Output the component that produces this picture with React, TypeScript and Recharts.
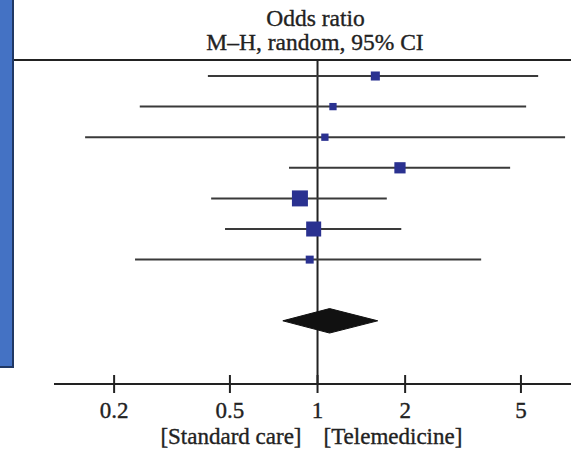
import { ComposedChart, Scatter, XAxis, YAxis, ReferenceLine } from "recharts";

// study rows, top to bottom
const STUDY_ROWS = [1, 2, 3, 4, 5, 6, 7];
const ODDS_RATIOS = [1.58, 1.13, 1.06, 1.92, 0.87, 0.97, 0.94];
const CI_LOWER = [0.42, 0.245, 0.159, 0.798, 0.431, 0.481, 0.236];
const CI_UPPER = [5.73, 5.21, 7.09, 4.59, 1.73, 1.94, 3.65];
const WEIGHTS = [9.5, 6.2, 6.2, 14.7, 29.8, 26.2, 7.4];

// pooled estimate (diamond)
const POOLED_ROW = 9;
const POOLED_OR = 1.1;
const POOLED_LOWER = 0.76;
const POOLED_UPPER = 1.61;

const X_TICKS = [0.2, 0.5, 1, 2, 5];
const X_DOMAIN = [0.1243, 7.43];
const Y_DOMAIN = [0.477, 11.065];

const SERIF = "'Liberation Serif', 'DejaVu Serif', serif";
const INK = "#222";
const LINE = "#3a3a3a";
const SQUARE = "#2a3190";

const studies = STUDY_ROWS.map((row, i) => ({
  row,
  or: ODDS_RATIOS[i],
  lower: CI_LOWER[i],
  upper: CI_UPPER[i],
  weight: WEIGHTS[i],
}));

const DIAMOND_HALF = 0.4;
const diamond = [
  { x: POOLED_LOWER, y: POOLED_ROW },
  { x: POOLED_OR, y: POOLED_ROW - DIAMOND_HALF },
  { x: POOLED_UPPER, y: POOLED_ROW },
  { x: POOLED_OR, y: POOLED_ROW + DIAMOND_HALF },
  { x: POOLED_LOWER, y: POOLED_ROW },
];

const textStyle = { fontFamily: SERIF, fill: INK, stroke: INK, strokeWidth: 0.35 };

const Hidden = () => <g />;

const WeightSquare = (props: any) => {
  const { cx, cy, payload } = props;
  const side = Math.sqrt(payload.weight) * 2.93;
  return <rect x={cx - side / 2} y={cy - side / 2} width={side} height={side} fill={SQUARE} />;
};

const OddsTick = (props: any) => {
  const { x, y, payload } = props;
  return (
    <g>
      <line x1={x} x2={x} y1={y - 9} y2={y + 9} stroke={INK} strokeWidth={2} />
      <text x={x} y={y + 34} textAnchor="middle" fontSize={23} {...textStyle}>
        {payload.value}
      </text>
      {payload.value === 1 && (
        <>
          <text x={x - 16} y={y + 60} textAnchor="end" fontSize={23} {...textStyle}>
            [Standard care]
          </text>
          <text x={x + 6} y={y + 60} textAnchor="start" fontSize={23} {...textStyle}>
            [Telemedicine]
          </text>
        </>
      )}
    </g>
  );
};

export default function App() {
  return (
    <div style={{ position: "absolute", left: 0, top: 0, width: 571, height: 451, background: "#fff" }}>
      <svg width={571} height={451} style={{ position: "absolute", left: 0, top: 0 }}>
        <rect x={-2} y={-2} width={15} height={369} fill="#4472C4" stroke="#203864" strokeWidth={2} />
        <line x1={14} x2={571} y1={60} y2={60} stroke={INK} strokeWidth={2} />
        <text x={315.5} y={26} textAnchor="middle" fontSize={23.5} {...textStyle}>
          Odds ratio
        </text>
        <text x={315} y={50} textAnchor="middle" fontSize={23.5} {...textStyle}>
          M–H, random, 95% CI
        </text>
      </svg>
      <div style={{ position: "absolute", left: 0, top: 0 }}>
        <ComposedChart width={571} height={451} margin={{ top: 60, right: 0, bottom: 0, left: 54 }}>
          <XAxis
            type="number"
            dataKey="x"
            scale="log"
            domain={X_DOMAIN}
            allowDataOverflow
            ticks={X_TICKS}
            height={67}
            tickSize={0}
            tickMargin={0}
            tickLine={false}
            axisLine={{ stroke: INK, strokeWidth: 2 }}
            tick={<OddsTick />}
          />
          <YAxis type="number" dataKey="y" domain={Y_DOMAIN} reversed allowDataOverflow hide />
          <ReferenceLine x={1} stroke={INK} strokeWidth={2} />
          {studies.map((s) => (
            <Scatter
              key={s.row}
              data={[
                { x: s.lower, y: s.row },
                { x: s.upper, y: s.row },
              ]}
              line={{ stroke: LINE, strokeWidth: 2 }}
              lineType="joint"
              shape={<Hidden />}
              isAnimationActive={false}
            />
          ))}
          <Scatter
            data={studies.map((s) => ({ x: s.or, y: s.row, weight: s.weight }))}
            shape={<WeightSquare />}
            isAnimationActive={false}
          />
          <Scatter
            data={diamond}
            line={{ stroke: "#111", strokeWidth: 1, fill: "#111" }}
            lineType="joint"
            shape={<Hidden />}
            isAnimationActive={false}
          />
        </ComposedChart>
      </div>
    </div>
  );
}
